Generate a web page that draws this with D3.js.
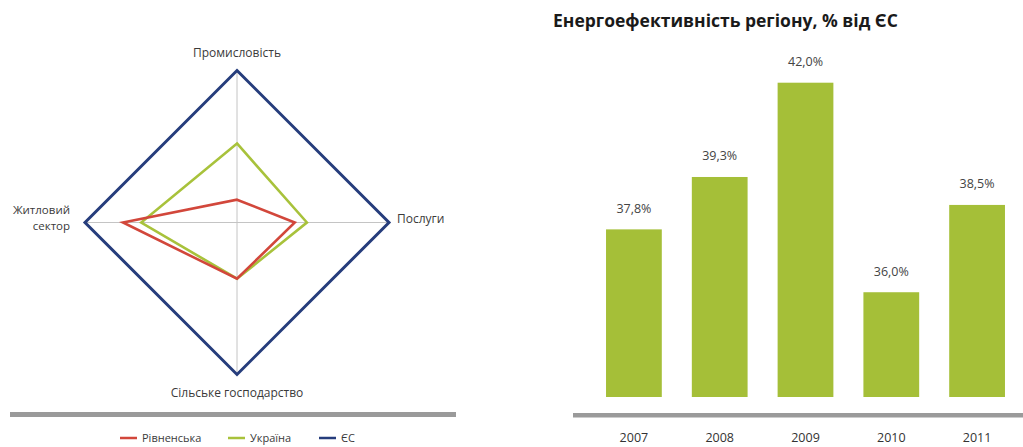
<!DOCTYPE html>
<html><head><meta charset="utf-8">
<script src="https://cdn.jsdelivr.net/npm/d3@7"></script>
<style>
html,body{margin:0;padding:0;background:#fff;}
svg{display:block;font-family:"Open Sans",sans-serif;}
</style></head>
<body>
<svg id="c" width="1023" height="447"></svg>
<script>
// Radar data
const axes = ["Промисловість", "Послуги", "Сільське господарство", "Житловий сектор"];
const rivne = [15, 38, 37, 75];
const ukraine = [52, 46, 37, 63];
const eu = [100, 100, 100, 100];
const seriesNames = ["Рівненська", "Україна", "ЄС"];
const seriesColors = ["#d2473b", "#a8c23b", "#263d7c"];

// Bar data
const years = ["2007", "2008", "2009", "2010", "2011"];
const efficiency = [37.8, 39.3, 42.0, 36.0, 38.5];
const valueLabels = ["37,8%", "39,3%", "42,0%", "36,0%", "38,5%"];
const title = "Енергоефективність регіону, % від ЄС";

const svg = d3.select("#c");

// ---------- Radar ----------
const cx = 237, cy = 222.5, R = 152;
const r = d3.scaleLinear().domain([0, 100]).range([0, R]);
const ang = d3.scalePoint().domain(axes).range([0, 2 * Math.PI * 3 / 4]);
const g = svg.append("g").attr("transform", `translate(${cx},${cy})`);

axes.forEach(a => {
  const t = ang(a);
  g.append("line")
    .attr("x1", 0).attr("y1", 0)
    .attr("x2", r(100) * Math.sin(t)).attr("y2", -r(100) * Math.cos(t))
    .attr("stroke", "#c4c4c4").attr("stroke-width", 1);
});

const radial = d3.lineRadial()
  .angle((d, i) => ang(axes[i]))
  .radius(d => r(d))
  .curve(d3.curveLinearClosed);

[[eu, 2], [ukraine, 1], [rivne, 0]].forEach(([vals, ci]) => {
  g.append("path")
    .attr("d", radial(vals))
    .attr("fill", "none")
    .attr("stroke", seriesColors[ci])
    .attr("stroke-width", ci === 2 ? 3 : 2.6)
    .attr("stroke-linejoin", "miter");
});

const lab = { fill: "#3a3a3a", size: 12 };
svg.append("text").attr("x", cx).attr("y", 57).attr("text-anchor", "middle")
  .attr("font-size", lab.size).attr("fill", lab.fill).text(axes[0]);
svg.append("text").attr("x", 397).attr("y", 223).attr("text-anchor", "start")
  .attr("font-size", lab.size).attr("fill", lab.fill).text(axes[1]);
svg.append("text").attr("x", cx).attr("y", 397).attr("text-anchor", "middle")
  .attr("font-size", lab.size).attr("fill", lab.fill).text(axes[2]);
const lw = axes[3].split(" ");
const lt = svg.append("text").attr("text-anchor", "end")
  .attr("font-size", 11.5).attr("fill", lab.fill);
lt.append("tspan").attr("x", 70).attr("y", 214).text(lw[0]);
lt.append("tspan").attr("x", 70).attr("y", 230).text(lw[1]);

svg.append("rect").attr("x", 10).attr("y", 412).attr("width", 446).attr("height", 5).attr("fill", "#9a9a9a");

const legX = [120, 228, 319];
seriesNames.forEach((n, i) => {
  svg.append("line").attr("x1", legX[i]).attr("x2", legX[i] + 17)
    .attr("y1", 438).attr("y2", 438)
    .attr("stroke", seriesColors[i]).attr("stroke-width", 2.5);
  svg.append("text").attr("x", legX[i] + 22).attr("y", 442)
    .attr("font-size", 11).attr("fill", "#3a3a3a").text(n);
});

// ---------- Bars ----------
svg.append("text").attr("x", 553).attr("y", 27)
  .attr("font-size", 17.5).attr("font-weight", "bold").attr("fill", "#1a1a1a").text(title);

const x = d3.scaleBand().domain(years).range([576, 1035]).paddingInner(0.35).paddingOuter(0.35);
const y = d3.scaleLinear().domain([33, 42]).range([397, 82.7]);

svg.selectAll("rect.bar").data(efficiency).enter().append("rect")
  .attr("class", "bar")
  .attr("x", (d, i) => x(years[i]))
  .attr("y", d => y(d))
  .attr("width", x.bandwidth())
  .attr("height", d => y.range()[0] - y(d))
  .attr("fill", "#a5bf38");

svg.selectAll("text.val").data(efficiency).enter().append("text")
  .attr("class", "val")
  .attr("x", (d, i) => x(years[i]) + x.bandwidth() / 2)
  .attr("y", d => y(d) - 16.5)
  .attr("text-anchor", "middle").attr("font-size", 12.5).attr("fill", "#444")
  .text((d, i) => valueLabels[i]);

svg.append("rect").attr("x", 573).attr("y", 413).attr("width", 450).attr("height", 4.5).attr("fill", "#9a9a9a");

svg.selectAll("text.yr").data(years).enter().append("text")
  .attr("class", "yr")
  .attr("x", d => x(d) + x.bandwidth() / 2)
  .attr("y", 442)
  .attr("text-anchor", "middle").attr("font-size", 12.5).attr("fill", "#333")
  .text(d => d);
</script>
</body></html>
